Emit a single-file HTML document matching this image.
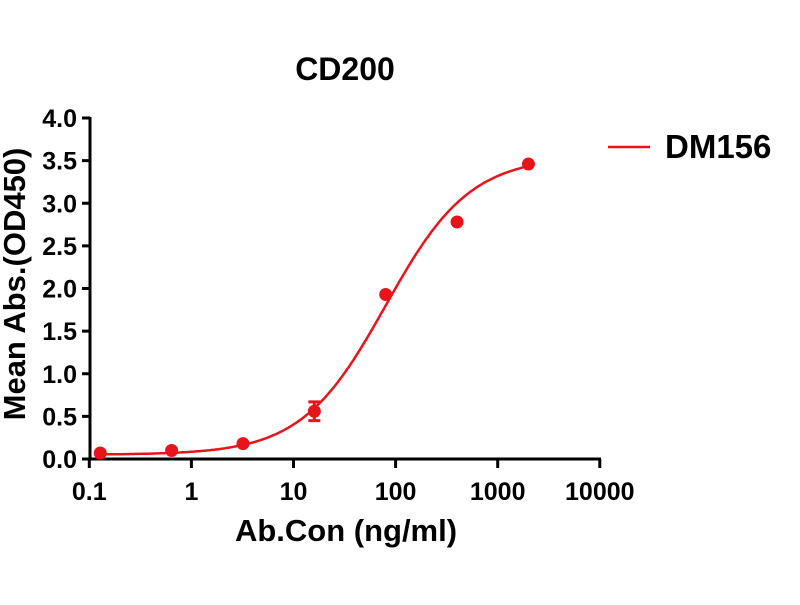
<!DOCTYPE html>
<html><head><meta charset="utf-8"><style>
body{margin:0;background:#fff;}
svg text{font-family:"Liberation Sans",Arial,sans-serif;font-weight:bold;fill:#000;}
</style></head><body>
<svg id="s" width="800" height="600" xmlns="http://www.w3.org/2000/svg">
<text x="345" y="80" font-size="32" text-anchor="middle">CD200</text>
<g stroke="#000" stroke-width="3" fill="none">
<line x1="90" y1="117" x2="90" y2="460"/>
<line x1="89" y1="459" x2="601" y2="459"/>
</g>
<g id="ticks" stroke="#000" stroke-width="3"></g>
<g font-size="25" text-anchor="end" id="yl"></g>
<g font-size="25" text-anchor="middle" id="xl"></g>
<text x="346" y="541" font-size="31" text-anchor="middle">Ab.Con (ng/ml)</text>
<text transform="translate(25,284) rotate(-90)" font-size="31" text-anchor="middle">Mean Abs.(OD450)</text>
<path id="curve" fill="none" stroke="#e8141c" stroke-width="2.5"/>
<g id="pts" fill="#e8141c"></g>
<line x1="608" y1="147" x2="650" y2="147" stroke="#e8141c" stroke-width="2.5"/>
<text x="665" y="158" font-size="33">DM156</text>
</svg>
<script>
const X=c=>89.3+(Math.log10(c)+1)*102.1, Y=v=>459-v*85.25, NS="http://www.w3.org/2000/svg";
function el(t,a,p){const e=document.createElementNS(NS,t);for(const k in a)e.setAttribute(k,a[k]);if(p)document.getElementById(p).appendChild(e);return e;}
for(let i=0;i<=8;i++){const y=Y(i*0.5);el('line',{x1:82,y1:y,x2:90,y2:y},'ticks');const t=el('text',{x:77,y:y+9},'yl');t.textContent=(i*0.5).toFixed(1);}
const lab=['0.1','1','10','100','1000','10000'];
for(let i=0;i<6;i++){const x=89.3+i*102.1;el('line',{x1:x,y1:459,x2:x,y2:468},'ticks');const t=el('text',{x:x,y:500},'xl');t.textContent=lab[i];}
const f=c=>{const r=Math.pow(c/80,1.05);return 0.05+3.5*r/(1+r);};
let d='';for(let i=0;i<=200;i++){const l=Math.log10(0.13)+i*(Math.log10(2000)-Math.log10(0.13))/200;const c=Math.pow(10,l);d+=(i?'L':'M')+X(c).toFixed(1)+' '+Y(f(c)).toFixed(1);}
document.getElementById('curve').setAttribute('d',d);
[[0.128,0.07],[0.64,0.1],[3.2,0.18],[16,0.56],[80,1.93],[400,2.78],[2000,3.46]].forEach(p=>el('circle',{cx:X(p[0]),cy:Y(p[1]),r:6.5},'pts'));
const ex=X(16);
el('line',{x1:ex,y1:Y(0.45),x2:ex,y2:Y(0.67),stroke:'#e8141c','stroke-width':3},'pts');
el('line',{x1:ex-6,y1:Y(0.45),x2:ex+6,y2:Y(0.45),stroke:'#e8141c','stroke-width':3},'pts');
el('line',{x1:ex-6,y1:Y(0.67),x2:ex+6,y2:Y(0.67),stroke:'#e8141c','stroke-width':3},'pts');
</script>
</body></html>
